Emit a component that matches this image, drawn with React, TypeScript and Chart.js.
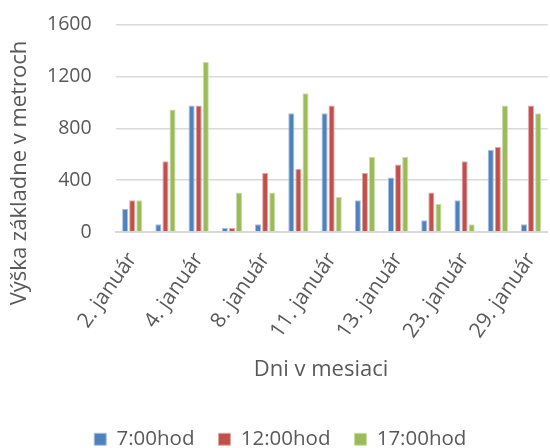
import { useEffect, useRef } from "react";
import { Chart, registerables } from "chart.js";

Chart.register(...registerables);

// Days of the month on the category axis (every other one is labelled)
const days = [
  "2. január", "3. január", "4. január", "5. január", "8. január",
  "9. január", "11. január", "12. január", "13. január", "22. január",
  "23. január", "28. január", "29. január",
];

// Cloud base height in metres, by time of observation
const at0700 = [180, 60, 975, 30, 60, 915, 915, 245, 420, 90, 245, 635, 60];
const at1200 = [245, 545, 975, 30, 455, 485, 975, 455, 520, 305, 545, 655, 975];
const at1700 = [245, 945, 1310, 305, 305, 1070, 270, 580, 580, 215, 60, 975, 915];

const seriesNames = ["7:00hod", "12:00hod", "17:00hod"];
const yMin = 0;
const yMax = 1600;
const yStep = 400;

const xTitle = "Dni v mesiaci";
const yTitle = "Výška základne v metroch";

const FONT = '"Open Sans", sans-serif';
const TEXT = "#595959";
const GRID = "#d9d9d9";

// Axis titles placed freely, as in the original spreadsheet chart
const axisTitles = {
  id: "axisTitles",
  afterDraw(chart: Chart) {
    const { ctx } = chart;
    ctx.save();
    ctx.fillStyle = TEXT;
    ctx.font = `22px ${FONT}`;
    ctx.textAlign = "center";
    ctx.textBaseline = "middle";
    ctx.fillText(xTitle, 321, 370);
    ctx.translate(20, 173);
    ctx.rotate(-Math.PI / 2);
    ctx.fillText(yTitle, 0, 0);
    ctx.restore();
  },
};

export default function App() {
  const canvasRef = useRef<HTMLCanvasElement | null>(null);

  useEffect(() => {
    const canvas = canvasRef.current;
    if (!canvas) return;
    const chart = new Chart(canvas, {
      type: "bar",
      data: {
        labels: days,
        datasets: [
          {
            label: seriesNames[0],
            data: at0700,
            backgroundColor: "#4f81bd",
            borderColor: "#a7c0de",
            borderWidth: 1,
          },
          {
            label: seriesNames[1],
            data: at1200,
            backgroundColor: "#c0504d",
            borderColor: "#e3a9a7",
            borderWidth: 1,
          },
          {
            label: seriesNames[2],
            data: at1700,
            backgroundColor: "#9bbb59",
            borderColor: "#cddcae",
            borderWidth: 1,
          },
        ],
      },
      options: {
        responsive: false,
        animation: false,
        devicePixelRatio: 1,
        datasets: {
          bar: { categoryPercentage: 0.64, barPercentage: 0.86 },
        },
        layout: { padding: { top: 24.5, left: 0, right: 7.4, bottom: -11.5 } },
        plugins: {
          tooltip: { enabled: false },
          legend: {
            position: "bottom",
            align: "center",
            labels: {
              boxWidth: 12,
              boxHeight: 12,
              padding: 24,
              color: TEXT,
              font: { family: FONT, size: 20.5 },
            },
          },
        },
        scales: {
          x: {
            offset: true,
            grid: { display: false, drawTicks: false },
            border: { display: true, color: GRID, width: 2 },
            ticks: {
              autoSkip: false,
              minRotation: 55,
              maxRotation: 55,
              padding: 16,
              color: TEXT,
              font: { family: FONT, size: 21 },
              callback: (_v: any, i: number) => (i % 2 === 0 ? days[i] : ""),
            },
            afterFit: (scale: any) => {
              scale.height = 173;
            },
          },
          y: {
            min: yMin,
            max: yMax,
            grid: {
              color: GRID,
              lineWidth: 1.5,
              drawTicks: true,
              tickLength: 24,
              tickColor: "rgba(0,0,0,0)",
            },
            border: { display: false },
            ticks: {
              stepSize: yStep,
              padding: 0,
              color: TEXT,
              font: { family: FONT, size: 19.5 },
              callback: (v: any) => String(v),
            },
            afterFit: (scale: any) => {
              scale.width = 115.6;
            },
          },
        },
      },
      plugins: [axisTitles],
    });
    return () => chart.destroy();
  }, []);

  return (
    <div
      style={{
        position: "fixed",
        left: 0,
        top: 0,
        width: 550,
        height: 448,
        overflow: "hidden",
        background: "#fff",
      }}
    >
      <canvas
        ref={canvasRef}
        width={568}
        height={448}
        style={{ display: "block", width: 568, height: 448 }}
      />
    </div>
  );
}
